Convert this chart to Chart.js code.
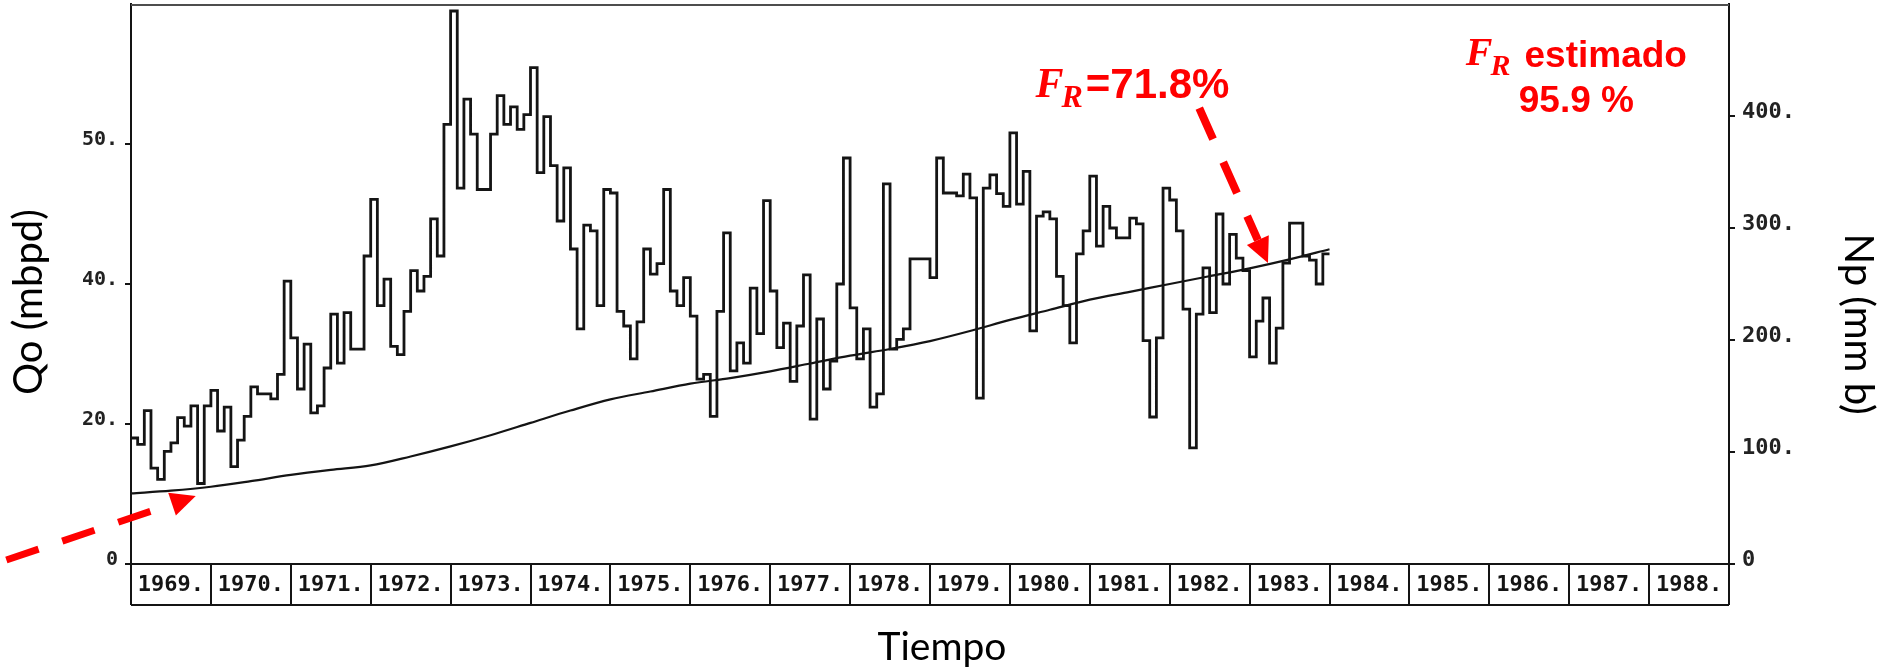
<!DOCTYPE html>
<html>
<head>
<meta charset="utf-8">
<title>Qo / Np vs Tiempo</title>
<script src="https://cdn.jsdelivr.net/npm/chart.js@4.4.1/dist/chart.umd.min.js"></script>
<style>
    html, body { margin: 0; padding: 0; background: #ffffff; }
    #wrap { width: 1881px; height: 670px; }
</style>
</head>
<body>
<div id="wrap"><canvas id="qoChart" width="1881" height="670"></canvas></div>
<script>
//#region === Data ===

// Qo, one value per month starting Jan 1969 (left axis units as drawn)
const qoStartYear = 1969;
const qoMonthly = [
    18.0, 17.1, 21.9, 13.7, 12.1, 16.1, 17.3, 20.9, 19.7, 22.6, 11.5, 22.6, // 1969
    24.8, 19.0, 22.4, 13.9, 17.7, 21.1, 25.3, 24.3, 24.3, 23.6, 27.1, 40.4, // 1970
    32.3, 25.0, 31.4, 21.6, 22.6, 28.0, 35.7, 28.7, 35.9, 30.7, 30.7, 44.0, // 1971
    52.1, 36.9, 40.7, 31.1, 29.9, 36.1, 41.9, 39.0, 41.1, 49.3, 44.0, 62.8, // 1972
    79.0, 53.7, 66.4, 61.4, 53.5, 53.5, 61.4, 66.9, 62.8, 65.3, 62.1, 64.2, // 1973
    70.9, 55.9, 63.9, 56.9, 49.0, 56.6, 45.0, 33.6, 48.4, 47.6, 36.9, 53.5, // 1974
    53.0, 36.1, 34.0, 29.3, 34.6, 45.0, 41.4, 42.9, 53.5, 39.0, 36.9, 40.9, // 1975
    35.4, 26.4, 27.1, 21.1, 36.1, 47.3, 27.6, 31.6, 28.7, 39.4, 32.9, 51.9, // 1976
    39.0, 30.9, 34.4, 26.1, 34.0, 41.3, 20.7, 35.0, 25.0, 29.0, 40.0, 58.0, // 1977
    36.6, 29.3, 33.6, 22.4, 24.3, 54.3, 30.7, 32.1, 33.6, 43.6, 43.6, 43.6, // 1978
    40.9, 58.0, 53.0, 53.0, 52.6, 55.7, 52.3, 23.7, 53.7, 55.6, 52.9, 51.1, // 1979
    61.6, 51.4, 56.1, 33.3, 49.7, 50.3, 49.3, 41.1, 36.9, 31.6, 44.3, 47.6, // 1980
    55.4, 45.4, 51.1, 48.0, 46.6, 46.6, 49.4, 48.6, 31.9, 21.0, 32.3, 53.7, // 1981
    52.0, 47.6, 36.4, 16.6, 35.7, 42.3, 35.9, 50.0, 40.0, 47.1, 43.7, 41.9, // 1982
    29.6, 34.7, 38.0, 28.7, 33.7, 43.0, 48.7, 48.7, 44.0, 43.4, 40.0, 44.3  // 1983
];

// Np, cumulative production curve (right axis)
const npYears = [
    1969, 1969.5, 1970, 1970.5, 1971, 1971.5, 1972, 1972.5, 1973, 1973.5,
    1974, 1974.5, 1975, 1975.5, 1976, 1976.5, 1977, 1977.5, 1978, 1978.5,
    1979, 1979.5, 1980, 1980.5, 1981, 1981.5, 1982, 1982.5, 1983, 1983.5, 1984
];
const npValues = [
    63, 65.5, 69, 74, 79.5, 84, 88, 96, 105, 115,
    126, 137, 147, 154, 161, 166, 172, 179, 186, 192,
    199, 208, 218, 227, 236, 243, 250, 257, 264, 272, 281
];

// Year boxes under the plot
const years = [
    1969, 1970, 1971, 1972, 1973, 1974, 1975, 1976, 1977, 1978,
    1979, 1980, 1981, 1982, 1983, 1984, 1985, 1986, 1987, 1988
];

// Tick values / labels as printed on the original axes
const qoTickValues = [0, 20, 40, 60];
const qoTickLabels = ['0', '20.', '40.', '50.'];
const npTickValues = [0, 100, 200, 300, 400];
const npTickLabels = ['0', '100.', '200.', '300.', '400.'];

//#endregion

//#region === Helpers ===

const RED = '#ff0000';
const INK = '#141414';

/**
 * Dashed arrow with a solid triangular head
 */
function drawDashedArrow(ctx, x0, y0, x1, y1, width) {
    const headLen = 25, headHalf = 12;
    const ang = Math.atan2(y1 - y0, x1 - x0);
    const bx = x1 - headLen * Math.cos(ang);
    const by = y1 - headLen * Math.sin(ang);
    ctx.save();
    ctx.strokeStyle = RED;
    ctx.fillStyle = RED;
    ctx.lineWidth = width;
    ctx.lineCap = 'butt';
    ctx.setLineDash([34, 25]);
    ctx.beginPath();
    ctx.moveTo(x0, y0);
    ctx.lineTo(bx, by);
    ctx.stroke();
    ctx.setLineDash([]);
    ctx.beginPath();
    ctx.moveTo(x1, y1);
    ctx.lineTo(bx + headHalf * Math.sin(ang), by - headHalf * Math.cos(ang));
    ctx.lineTo(bx - headHalf * Math.sin(ang), by + headHalf * Math.cos(ang));
    ctx.closePath();
    ctx.fill();
    ctx.restore();
}

/**
 * Italic "F" with subscript "R", returns the width used
 */
function drawFR(ctx, x, baseline, fSize, rSize, drop, measureOnly) {
    ctx.font = `italic bold ${fSize}px "Liberation Serif"`;
    const fw = ctx.measureText('F').width;
    if (!measureOnly) ctx.fillText('F', x, baseline);
    ctx.font = `italic bold ${rSize}px "Liberation Serif"`;
    const rw = ctx.measureText('R').width;
    if (!measureOnly) ctx.fillText('R', x + fw - 2, baseline + drop);
    return fw - 2 + rw;
}

// Plot frame, year boxes, axis titles and red notes
const decorPlugin = {
    id: 'decor',
    afterDraw(chart) {
        const { ctx, chartArea: area, scales } = chart;
        const xs = scales.x;
        const np = scales.y1;
        const boxBottom = area.bottom + 41;

        ctx.save();

        // top frame line
        ctx.strokeStyle = '#4d4d4d';
        ctx.lineWidth = 2;
        ctx.beginPath();
        ctx.moveTo(area.left, area.top + 1);
        ctx.lineTo(area.right, area.top + 1);
        ctx.stroke();

        // year boxes
        ctx.strokeStyle = INK;
        ctx.lineWidth = 2;
        ctx.beginPath();
        ctx.moveTo(area.left, area.bottom);
        ctx.lineTo(area.right, area.bottom);
        ctx.moveTo(area.left, boxBottom);
        ctx.lineTo(area.right, boxBottom);
        years.concat([xs.max]).forEach(yr => {
            const px = Math.round(xs.getPixelForValue(yr));
            ctx.moveTo(px, area.bottom);
            ctx.lineTo(px, boxBottom);
        });
        ctx.stroke();

        // axis titles
        ctx.fillStyle = '#000';
        ctx.font = '40px Lato';
        ctx.textAlign = 'center';
        ctx.textBaseline = 'middle';
        ctx.save();
        ctx.translate(29, 302);
        ctx.rotate(-Math.PI / 2);
        ctx.fillText('Qo (mbpd)', 0, 0);
        ctx.restore();
        ctx.save();
        ctx.translate(1858, 324);
        ctx.rotate(Math.PI / 2);
        ctx.fillText('Np (mm b)', 0, 0);
        ctx.restore();
        ctx.font = '39px Lato';
        ctx.textBaseline = 'alphabetic';
        ctx.fillText('Tiempo', 942, 660);

        // red arrows, anchored in year / Np units
        const px = v => xs.getPixelForValue(v);
        const py = v => np.getPixelForValue(v);
        drawDashedArrow(ctx, px(1967.44), py(3.6), px(1969.81), py(60.7), 7);
        drawDashedArrow(ctx, px(1982.37), py(407), px(1983.23), py(268.8), 8);

        // F_R = 71.8%
        ctx.fillStyle = RED;
        ctx.textAlign = 'left';
        ctx.textBaseline = 'alphabetic';
        const fx = px(1980.32), fy = py(417);
        const frw = drawFR(ctx, fx, fy, 42, 32, 10);
        ctx.font = 'bold 42px "Liberation Sans"';
        ctx.fillText('=71.8%', fx + frw + 3, fy + 1);

        // F_R estimado / 95.9 %
        const cx = px(1987.09), ly1 = py(443.8), ly2 = py(403.6);
        const frw2 = drawFR(ctx, 0, 0, 40, 30, 10, true);
        ctx.font = 'bold 37px "Liberation Sans"';
        const estw = ctx.measureText('estimado').width;
        const gap = 14;
        const startX = cx - (frw2 + gap + estw) / 2;
        drawFR(ctx, startX, ly1 - 2, 40, 30, 10);
        ctx.font = 'bold 37px "Liberation Sans"';
        ctx.fillText('estimado', startX + frw2 + gap, ly1);
        ctx.textAlign = 'center';
        ctx.fillText('95.9 %', cx, ly2);

        ctx.restore();
    }
};

// keep tick labels from pushing the plot area inward
function noEdgePadding(scale) {
    scale.paddingTop = 0;
    scale.paddingBottom = 0;
    scale.paddingLeft = 0;
    scale.paddingRight = 0;
}

//#endregion

//#region === Chart ===

function renderChart() {
    const ctx = document.getElementById('qoChart').getContext('2d');

    // step line: each month holds its value until the next month
    const qoPoints = qoMonthly.map((v, i) => ({ x: qoStartYear + i / 12, y: v }));
    qoPoints.push({ x: qoStartYear + qoMonthly.length / 12, y: qoMonthly[qoMonthly.length - 1] });

    const npPoints = npYears.map((yr, i) => ({ x: yr, y: npValues[i] }));

    const tickFont = size => ({ family: 'DejaVu Sans Mono', size, weight: 'bold' });

    new Chart(ctx, {
        type: 'line',
        data: {
            datasets: [
                {
                    label: 'Qo',
                    data: qoPoints,
                    yAxisID: 'y',
                    stepped: true,
                    borderColor: INK,
                    borderWidth: 2.8,
                    pointRadius: 0,
                    fill: false
                },
                {
                    label: 'Np',
                    data: npPoints,
                    yAxisID: 'y1',
                    cubicInterpolationMode: 'monotone',
                    borderColor: INK,
                    borderWidth: 2.2,
                    pointRadius: 0,
                    fill: false
                }
            ]
        },
        options: {
            responsive: false,
            maintainAspectRatio: false,
            devicePixelRatio: 1,
            animation: false,
            layout: { padding: { top: 4, left: 0, right: 0, bottom: 0 } },
            scales: {
                x: {
                    type: 'linear',
                    min: 1969,
                    max: 1989,
                    position: 'bottom',
                    grid: { display: false, drawTicks: false },
                    border: { display: false },
                    afterBuildTicks: scale => {
                        scale.ticks = years.map(yr => ({ value: yr + 0.5 }));
                    },
                    afterFit: scale => { scale.height = 106; noEdgePadding(scale); },
                    ticks: {
                        autoSkip: false,
                        maxRotation: 0,
                        padding: 8,
                        color: INK,
                        font: tickFont(22),
                        callback: value => Math.floor(value) + '.'
                    }
                },
                y: {
                    type: 'linear',
                    position: 'left',
                    min: 0,
                    max: 80,
                    afterBuildTicks: scale => {
                        scale.ticks = qoTickValues.map(v => ({ value: v }));
                    },
                    afterFit: scale => { scale.width = 131; noEdgePadding(scale); },
                    grid: { drawOnChartArea: false, tickLength: 6, color: INK, lineWidth: 2 },
                    border: { display: true, color: INK, width: 2 },
                    ticks: {
                        padding: 7,
                        labelOffset: -4,
                        color: '#222',
                        font: tickFont(20),
                        callback: value => qoTickLabels[qoTickValues.indexOf(value)]
                    }
                },
                y1: {
                    type: 'linear',
                    position: 'right',
                    min: 0,
                    max: 500,
                    afterBuildTicks: scale => {
                        scale.ticks = npTickValues.map(v => ({ value: v }));
                    },
                    afterFit: scale => { scale.width = 152; noEdgePadding(scale); },
                    grid: { drawOnChartArea: false, tickLength: 6, color: INK, lineWidth: 2 },
                    border: { display: true, color: INK, width: 2 },
                    ticks: {
                        padding: 7,
                        labelOffset: -4,
                        color: '#222',
                        font: tickFont(22),
                        callback: value => npTickLabels[npTickValues.indexOf(value)]
                    }
                }
            },
            plugins: {
                legend: { display: false },
                tooltip: { enabled: false },
                title: { display: false }
            }
        },
        plugins: [decorPlugin]
    });
}

document.addEventListener('DOMContentLoaded', renderChart);

//#endregion
</script>
</body>
</html>
